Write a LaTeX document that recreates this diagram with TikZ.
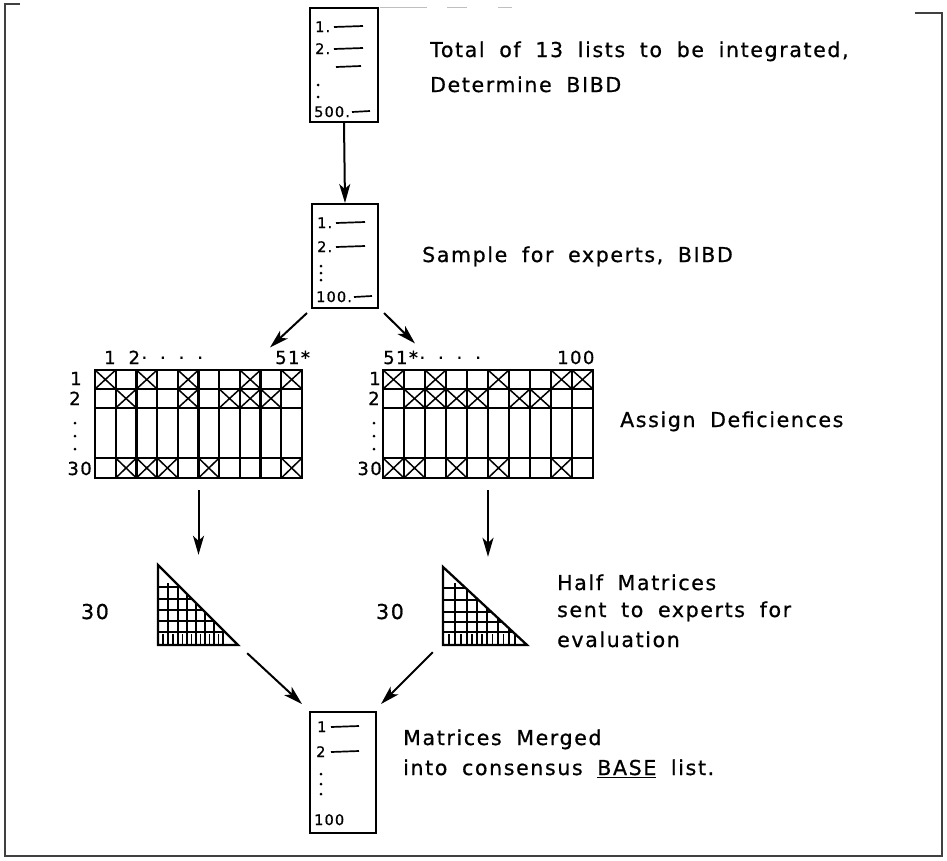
\documentclass[tikz,border=0pt]{standalone}
\usepackage{fontspec}
\setmainfont{DejaVu Sans}
\newfontfamily\lfont{DejaVu Sans}[LetterSpace=8,WordSpace=1.8,FakeBold=0.8]
\usetikzlibrary{arrows.meta}
\tikzset{
  frameline/.style={line width=1.5pt, black!75},
  faintline/.style={line width=1pt, black!25},
  listbox/.style={draw, line width=2pt, inner sep=0pt},
  hidbox/.style={inner sep=0pt},
  arr/.style={line width=2pt, -{Stealth[length=19pt,width=11pt,inset=5pt]}},
  gridline/.style={line width=2.3pt},
  xline/.style={line width=1.5pt},
  tline/.style={line width=1.4pt},
  dashmark/.style={line width=1.7pt},
  lbl/.style={font=\lfont\fontsize{20.5}{24}\selectfont, anchor=base west, inner sep=0pt},
  mlbl/.style={font=\lfont\fontsize{18}{20}\selectfont, anchor=base west, inner sep=0pt},
  boxtxt/.style={font=\lfont\fontsize{14.5}{16}\selectfont, anchor=base west, inner sep=0pt},
  dotmark/.style={fill, circle, inner sep=0pt, minimum size=3pt}
}
\newcommand\mymatrix[5]{%
  \draw[gridline] (#1,370) rectangle ({#1+10*#2},478);
  \foreach \i in {1,...,9} \draw[gridline] ({#1+\i*#2},370) -- ({#1+\i*#2},478);
  \foreach \yy in {389,408,458} \draw[gridline] (#1,\yy) -- ({#1+10*#2},\yy);
  \foreach \c in {#3} \draw[xline] ({#1+(\c-1)*#2},370) -- ({#1+\c*#2},389) ({#1+\c*#2},370) -- ({#1+(\c-1)*#2},389);
  \foreach \c in {#4} \draw[xline] ({#1+(\c-1)*#2},389) -- ({#1+\c*#2},408) ({#1+\c*#2},389) -- ({#1+(\c-1)*#2},408);
  \foreach \c in {#5} \draw[xline] ({#1+(\c-1)*#2},458) -- ({#1+\c*#2},478) ({#1+\c*#2},458) -- ({#1+(\c-1)*#2},478);
}
\begin{document}
\begin{tikzpicture}[x=1pt,y=-1pt]
\useasboundingbox (0,0) rectangle (947,860);
% frame
\draw[frameline] (20,4) -- (5,4) -- (5,856) -- (942,856) -- (942,13) -- (915,13);
\draw[faintline] (380,7) -- (427,7) (447,7) -- (467,7) (498,7) -- (512,7);

% list box 1
\node[listbox, minimum width=68pt, minimum height=114pt] (box1) at (344,65) {};
\node[boxtxt] (b1a) at (315,32) {1.};
\node[boxtxt] (b1b) at (315,54) {2.};
\node[dotmark] at (318,85) {};
\node[dotmark] at (318,97) {};
\node[boxtxt] (b1e) at (314,117) {500.};
\draw[dashmark] (334,27) -- (363,26);
\draw[dashmark] (334,49) -- (363,48);
\draw[dashmark] (336,67) -- (361,66);
\draw[dashmark] (352,112) -- (370,111);

% list box 2
\node[listbox, minimum width=66pt, minimum height=104pt] (box2) at (345,256) {};
\node[boxtxt] (b2a) at (317,228) {1.};
\node[boxtxt] (b2b) at (317,252) {2.};
\node[dotmark] at (321,266) {};
\node[dotmark] at (321,273) {};
\node[dotmark] at (321,280) {};
\node[boxtxt] (b2e) at (316,302) {100.};
\draw[dashmark] (336,223) -- (365,222);
\draw[dashmark] (336,247) -- (365,246);
\draw[dashmark] (354,297) -- (372,296);

% texts at top
\node[lbl] (t1) at (430,57) {Total of 13 lists to be integrated,};
\node[lbl] (t2) at (430,92) {Determine BIBD};
\node[lbl] (t3) at (422,262) {Sample for experts, BIBD};

% matrices
\node[hidbox, minimum width=207pt, minimum height=108pt] (matL) at (198.5,424) {};
\node[hidbox, minimum width=210pt, minimum height=108pt] (matR) at (488,424) {};
\mymatrix{95}{20.7}{1,3,5,8,10}{2,5,7,8,9}{2,3,4,6,10}
\mymatrix{383}{21}{1,3,6,9,10}{2,3,4,5,7,8}{1,2,4,6,9}

% matrix labels
\node[mlbl] (cL1) at (104,364) {1 2· · · ·};
\node[mlbl] (c51L) at (275,364) {51*};
\node[mlbl] (c51R) at (383,364) {51*· · · ·};
\node[mlbl] (c100) at (557,364) {100};
\node[mlbl] (rL1) at (70,385) {1};
\node[mlbl] (rL2) at (69,405) {2};
\node[dotmark] at (75,423) {};
\node[dotmark] at (75,436) {};
\node[dotmark] at (75,449) {};
\node[mlbl, anchor=base east] (rL30) at (92,475) {30};
\node[mlbl] (rR1) at (369,385) {1};
\node[mlbl] (rR2) at (368,405) {2};
\node[dotmark] at (374,423) {};
\node[dotmark] at (374,436) {};
\node[dotmark] at (374,449) {};
\node[mlbl, anchor=base east] (rR30) at (382,475) {30};

\node[lbl] (t4) at (620,427) {Assign Deficiences};

% triangles
\node[hidbox, minimum width=80pt, minimum height=80pt] (triL) at (198,605) {};
\node[hidbox, minimum width=84pt, minimum height=78pt] (triR) at (485,606) {};
\begin{scope}
  \clip (158,565) -- (158,645) -- (238,645) -- cycle;
  \foreach \yy in {587,599,610,621,632} \draw[tline] (158,\yy) -- (238,\yy);
  \foreach \xx in {168,178,187,196,205,214,223} \draw[tline] (\xx,583) -- (\xx,645);
  \foreach \xx in {163,173,182.5,191.5,200.5,209.5,218.5} \draw[tline] (\xx,634) -- (\xx,645);
\end{scope}
\draw[gridline, line join=miter] (158,565) -- (158,645) -- (238,645) -- cycle;
\begin{scope}
  \clip (443,567) -- (443,645) -- (527,645) -- cycle;
  \foreach \yy in {588,600,612,622,632} \draw[tline] (443,\yy) -- (527,\yy);
  \foreach \xx in {455,467,477,487,498,509} \draw[tline] (\xx,583) -- (\xx,645);
  \foreach \xx in {449,461,472,482,492.5,503.5,515} \draw[tline] (\xx,634) -- (\xx,645);
\end{scope}
\draw[gridline, line join=miter] (443,567) -- (443,645) -- (527,645) -- cycle;

\node[lbl, anchor=base] (n30L) at (95,619) {30};
\node[lbl, anchor=base] (n30R) at (390,619) {30};
\node[lbl] (t5) at (557,590) {Half Matrices};
\node[lbl] (t6) at (557,617) {sent to experts for};
\node[lbl] (t7) at (557,647) {evaluation};

% list box 3
\node[listbox, minimum width=66pt, minimum height=121pt] (box3) at (343,772.5) {};
\node[boxtxt] (b3a) at (317,732) {1};
\node[boxtxt] (b3b) at (316,757) {2};
\node[dotmark] at (321,774) {};
\node[dotmark] at (321,784) {};
\node[dotmark] at (321,794) {};
\node[boxtxt] (b3e) at (314,825) {100};
\draw[dashmark] (331,727) -- (359,726);
\draw[dashmark] (331,752) -- (359,751);

\node[lbl] (t8) at (403,745) {Matrices Merged};
\node[lbl] (t9) at (403,775) {into consensus \underline{BASE} list.};

% connectors
\path (matL.south |- triL.north) coordinate (ltip);
\path (matR.south |- triR.north) coordinate (rtip);
\draw[arr] (box1.south) -- (box2.north);
\draw[arr] ([xshift=-4pt,yshift=-4pt]box2.south west) -- ([xshift=-5pt,yshift=3pt]c51L.north west);
\draw[arr] ([xshift=5pt,yshift=-4pt]box2.south east) -- ([xshift=32pt,yshift=7pt]c51R.north west);
\draw[arr] ([yshift=-12pt]matL.south) -- ([yshift=10pt]ltip);
\draw[arr] ([yshift=-12pt]matR.south) -- ([yshift=10pt]rtip);
\draw[arr] ([xshift=9pt,yshift=-8pt]triL.south east) -- ([xshift=-7pt,yshift=7pt]box3.north west);
\draw[arr] ([xshift=-10pt,yshift=-7pt]triR.south west) -- ([xshift=4pt,yshift=7pt]box3.north east);
\end{tikzpicture}
\end{document}
